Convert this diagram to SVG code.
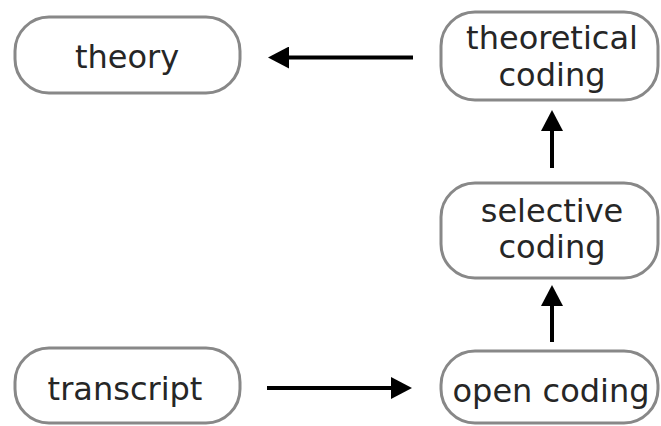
<svg xmlns="http://www.w3.org/2000/svg" width="661" height="426" viewBox="0 0 661 426">
<style>
.n{fill:#fff;stroke:#888;stroke-width:3}
.t{font-family:"DejaVu Sans",Verdana,sans-serif;font-size:32px;fill:#262626;text-anchor:middle}
.c{stroke:#000;stroke-width:4;fill:none}
</style>
<defs>
<marker id="ah" markerUnits="userSpaceOnUse" markerWidth="22" markerHeight="22" refX="0" refY="11" orient="auto">
<path d="M0,0 L21,11 L0,22 z" fill="#000"/>
</marker>
</defs>
<rect width="661" height="426" fill="#fff"/>
<g id="connectors">
<line class="c" x1="413" y1="57.5" x2="289" y2="57.5" marker-end="url(#ah)"/>
<line class="c" x1="552" y1="168" x2="552" y2="131" marker-end="url(#ah)"/>
<line class="c" x1="552" y1="342" x2="552" y2="306" marker-end="url(#ah)"/>
<line class="c" x1="267" y1="388" x2="391" y2="388" marker-end="url(#ah)"/>
</g>
<g id="theory">
<rect class="n" x="15" y="17" width="225" height="76" rx="34"/>
<text class="t" x="127" y="68">theory</text>
</g>
<g id="theoretical-coding">
<rect class="n" x="441" y="12" width="217" height="88" rx="34"/>
<text class="t" x="552" y="49">theoretical</text>
<text class="t" x="552" y="86">coding</text>
</g>
<g id="selective-coding">
<rect class="n" x="441" y="183" width="217" height="95" rx="34"/>
<text class="t" x="552" y="222">selective</text>
<text class="t" x="552" y="258">coding</text>
</g>
<g id="transcript">
<rect class="n" x="15" y="348" width="225" height="75" rx="34"/>
<text class="t" x="125" y="400">transcript</text>
</g>
<g id="open-coding">
<rect class="n" x="441" y="351" width="217" height="72" rx="34"/>
<text class="t" x="551" y="402">open coding</text>
</g>
</svg>
